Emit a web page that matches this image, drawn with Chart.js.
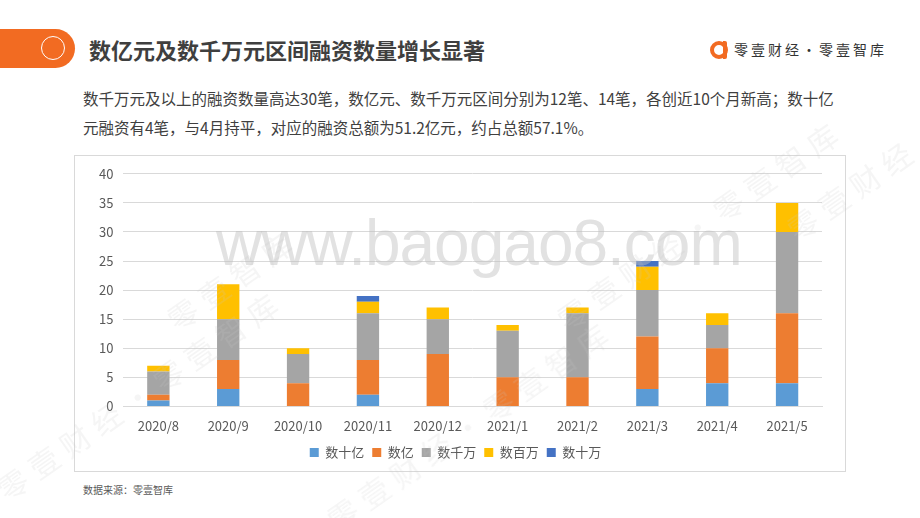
<!DOCTYPE html>
<html>
<head>
<meta charset="utf-8">
<script src="https://cdn.jsdelivr.net/npm/chart.js@4"></script>
<style>
    html, body { margin: 0; padding: 0; background: #fff; }
    body { width: 920px; height: 518px; position: relative; overflow: hidden;
           font-family: "Noto Sans CJK SC", "Noto Sans", sans-serif; color: #404040; }
    .tab { position: absolute; left: 0; top: 29px; width: 75px; height: 39px;
           background: #f26b22; border-radius: 0 20px 20px 0; }
    .tab .ring { position: absolute; left: 41px; top: 7px; width: 22px; height: 22px;
                 border: 1.5px solid #fff; border-radius: 50%; }
    .title { position: absolute; left: 89px; top: 32px; font-size: 22px; font-weight: bold;
             color: #3f3f3f; white-space: nowrap; line-height: 34px; }
    .brand { position: absolute; left: 734px; top: 39px; font-size: 14px; color: #333;
             letter-spacing: 3px; white-space: nowrap; line-height: 20px; }
    .logo { position: absolute; left: 710px; top: 41px; width: 10px; height: 10px;
            border: 4px solid #f26b22; border-radius: 50%; }
    .logo:after { content: ""; position: absolute; left: 9px; top: -4px; width: 4px; height: 18px;
                  background: #f26b22; border-radius: 0 2px 2px 0; }
    .lead { position: absolute; left: 83px; top: 84px; font-size: 15.5px; line-height: 29px;
            color: #404040; white-space: nowrap; }
    .frame { position: absolute; left: 74px; top: 155px; width: 772px; height: 317px;
             border: 1px solid #d9d9d9; box-sizing: border-box; }
    .frame canvas { position: absolute; left: 0; top: 0; }
    .source { position: absolute; left: 83px; top: 482px; font-size: 10px; color: #595959; }
    .wm { position: absolute; pointer-events: none; white-space: nowrap; }
    .wm.site { left: 216px; top: 206px; font-family: "Liberation Sans", sans-serif; font-size: 64px;
               color: rgba(190,190,190,0.45); letter-spacing: -1px; }
    .wm.diag { font-size: 30px; color: rgba(200,200,200,0.18); transform: rotate(-35deg);
               transform-origin: left center; letter-spacing: 8px; }
</style>
</head>
<body>
<div class="tab"><div class="ring"></div></div>
<div class="title">数亿元及数千万元区间融资数量增长显著</div>
<div class="logo"></div>
<div class="brand">零壹财经·零壹智库</div>
<div class="lead">数千万元及以上的融资数量高达30笔，数亿元、数千万元区间分别为12笔、14笔，各创近10个月新高；数十亿<br>元融资有4笔，与4月持平，对应的融资总额为51.2亿元，约占总额57.1%。</div>

<div class="frame"><canvas id="fundingChart" width="770" height="315"></canvas></div>
<div class="source">数据来源：零壹智库</div>

<div class="wm diag" style="left:0px; top:470px;">零壹财经·零壹智库</div>
<div class="wm diag" style="left:170px; top:300px;">零壹智库</div>
<div class="wm diag" style="left:330px; top:500px;">零壹财经·零壹智库</div>
<div class="wm diag" style="left:560px; top:300px;">零壹财经·零壹智库</div>
<div class="wm diag" style="left:790px; top:210px;">零壹财经</div>
<div class="wm site">www.baogao8.com</div>

<script>
// months on the x axis
const months = ['2020/8', '2020/9', '2020/10', '2020/11', '2020/12', '2021/1', '2021/2', '2021/3', '2021/4', '2021/5'];

// number of financing deals per size bucket
const tenBillions = [1, 3, 0, 2, 0, 0, 0, 3, 4, 4];     // 数十亿
const hundredMillions = [1, 5, 4, 6, 9, 5, 5, 9, 6, 12]; // 数亿
const tenMillions = [4, 7, 5, 8, 6, 8, 11, 8, 4, 14];    // 数千万
const millions = [1, 6, 1, 2, 2, 1, 1, 4, 2, 5];         // 数百万
const hundredThousands = [0, 0, 0, 1, 0, 0, 0, 1, 0, 0]; // 数十万

const seriesNames = ['数十亿', '数亿', '数千万', '数百万', '数十万'];
const yTicks = [0, 5, 10, 15, 20, 25, 30, 35, 40];

const ctx = document.getElementById('fundingChart').getContext('2d');

function bucket(label, data, color) {
    return {
        label: label,
        data: data,
        backgroundColor: color,
        borderWidth: 0,
        categoryPercentage: 1,
        barPercentage: 0.32
    };
}

const fundingChart = new Chart(ctx, {
    type: 'bar',
    data: {
        labels: months,
        datasets: [
            bucket(seriesNames[0], tenBillions, '#5b9bd5'),
            bucket(seriesNames[1], hundredMillions, '#ed7d31'),
            bucket(seriesNames[2], tenMillions, '#a5a5a5'),
            bucket(seriesNames[3], millions, '#ffc000'),
            bucket(seriesNames[4], hundredThousands, '#4472c4')
        ]
    },
    options: {
        responsive: false,
        animation: false,
        layout: { padding: { left: 14, right: 23, top: 10, bottom: 2 } },
        plugins: {
            legend: {
                position: 'bottom',
                labels: {
                    color: '#595959',
                    font: { size: 13, family: '"Noto Sans CJK SC", sans-serif' },
                    boxWidth: 9,
                    boxHeight: 9,
                    padding: 8
                }
            },
            tooltip: { enabled: false }
        },
        scales: {
            x: {
                stacked: true,
                grid: { display: false },
                border: { color: '#d9d9d9' },
                ticks: {
                    color: '#595959',
                    font: { size: 13, family: '"Noto Sans CJK SC", sans-serif' },
                    padding: 4,
                    maxRotation: 0
                }
            },
            y: {
                stacked: true,
                min: 0,
                max: 40,
                afterBuildTicks: axis => { axis.ticks = yTicks.map(v => ({ value: v })); },
                grid: { color: '#d9d9d9', drawTicks: false },
                border: { display: false },
                ticks: {
                    color: '#595959',
                    font: { size: 13, family: '"Noto Sans CJK SC", sans-serif' },
                    padding: 10
                }
            }
        }
    }
});
</script>
</body>
</html>
